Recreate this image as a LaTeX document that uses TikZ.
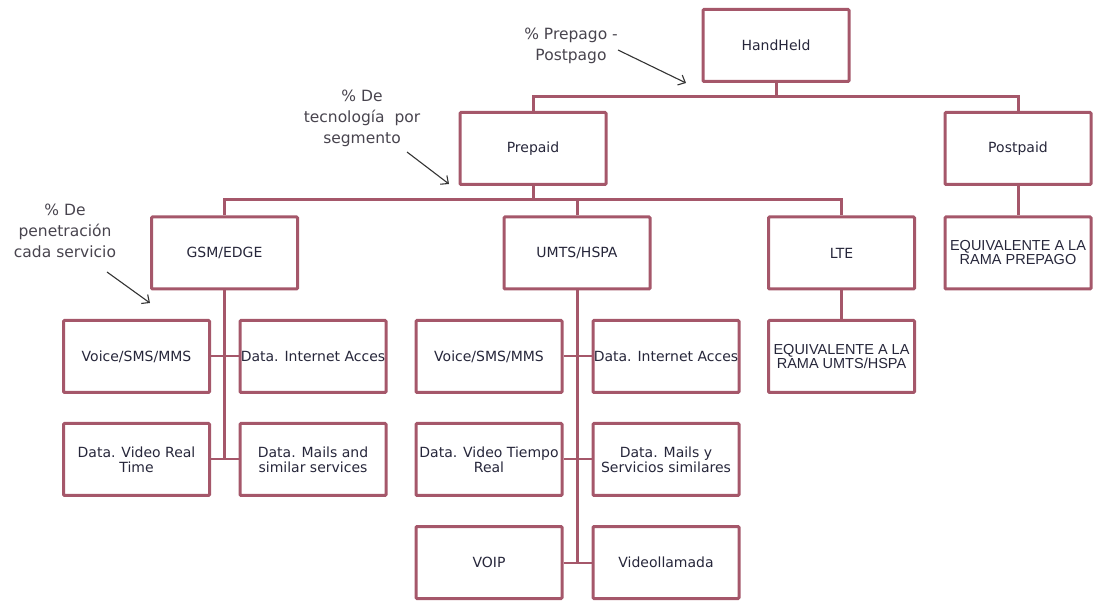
\documentclass[tikz,border=0pt]{standalone}
\usepackage{fontspec}
\setmainfont{DejaVu Sans}
\newfontfamily\arialfont{Liberation Sans}
\usetikzlibrary{arrows.meta}
\definecolor{boxred}{HTML}{A5576A}
\definecolor{boxtext}{HTML}{26263A}
\definecolor{notetext}{HTML}{48444E}

\begin{document}
\begin{tikzpicture}[x=1pt,y=-1pt,
    box/.style={draw=boxred,line width=3pt,rounded corners=1pt,
      minimum width=146pt,minimum height=72pt,inner sep=0pt,
      align=center,text=boxtext,font=\fontsize{14}{15}\selectfont},
    equiv/.style={box,font=\arialfont\fontsize{14.5}{14}\selectfont},
    note/.style={align=center,text=notetext,font=\fontsize{15.5}{21}\selectfont},
    branch/.style={draw=boxred,line width=3pt},
    twig/.style={draw=boxred,line width=2pt},
    pointer/.style={draw=black!80,line width=1.1pt,
      -{Straight Barb[length=6pt,width=11pt]}}]
    \useasboundingbox (0,0) rectangle (1093,601);
    % top levels
    \node[box] (hand) at (776,45.5) {HandHeld};
    \node[box] (pre) at (533,148.5) {Prepaid};
    \node[box] (post) at (1018,148.5) {Postpaid};
    \node[equiv] (eqpre) at (1018,253) {EQUIVALENTE A LA\\RAMA PREPAGO};
    \node[box] (gsm) at (224.5,253) {GSM/EDGE};
    \node[box] (umts) at (577,253) {UMTS/HSPA};
    \node[box] (lte) at (841.5,253) {LTE};
    \node[equiv] (equmts) at (841.5,356.5) {EQUIVALENTE A LA\\RAMA UMTS/HSPA};
    % GSM services
    \node[box] (gvoice) at (136.5,356.5) {Voice/SMS/MMS};
    \node[box] (gint) at (313,356.5) {Data. Internet Acces};
    \node[box] (gvid) at (136.5,459.5) {Data. Video Real\\Time};
    \node[box] (gmail) at (313,459.5) {Data. Mails and\\similar services};
    % UMTS services
    \node[box] (uvoice) at (489,356.5) {Voice/SMS/MMS};
    \node[box] (uint) at (666,356.5) {Data. Internet Acces};
    \node[box] (uvid) at (489,459.5) {Data. Video Tiempo\\Real};
    \node[box] (umail) at (666,459.5) {Data. Mails y\\Servicios similares};
    \node[box] (uvoip) at (489,562.5) {VOIP};
    \node[box] (ucall) at (666,562.5) {Videollamada};
    % branches
    \coordinate (hsplit) at (776,97);
    \coordinate (psplit) at (533,200);
    \draw[branch] (hand.south) -- (hsplit);
    \draw[branch] (pre.north) |- (hsplit) -| (post.north);
    \draw[branch] (post.south) -- (eqpre.north);
    \draw[branch] (pre.south) -- (psplit);
    \draw[branch] (gsm.north) |- (psplit) -| (lte.north);
    \draw[branch] (umts.north) -- (umts.north |- psplit);
    \draw[branch] (lte.south) -- (equmts.north);
    \draw[branch] (gsm.south) -- (gsm.south |- gvid.east);
    \draw[twig] (gvoice.east) -- (gint.west);
    \draw[twig] (gvid.east) -- (gmail.west);
    \draw[branch] (umts.south) -- (umts.south |- uvoip.east);
    \draw[twig] (uvoice.east) -- (uint.west);
    \draw[twig] (uvid.east) -- (umail.west);
    \draw[twig] (uvoip.east) -- (ucall.west);
    % notes
    \node[note] (nseg) at (571,46) {\% Prepago -\\Postpago};
    \node[note] (ntec) at (362,118.5) {\% De\\tecnología~ por\\segmento};
    \node[note] (npen) at (65,231) {\% De\\penetración\\cada servicio};
    \coordinate (nsegtail) at (618,50);
    \coordinate (nseghead) at (686,83);
    \coordinate (ntectail) at (407,152);
    \coordinate (ntechead) at (449,184);
    \coordinate (npentail) at (107,272);
    \coordinate (npenhead) at (150,303);
    \draw[pointer] (nsegtail) -- (nseghead);
    \draw[pointer] (ntectail) -- (ntechead);
    \draw[pointer] (npentail) -- (npenhead);
  \end{tikzpicture}
\end{document}
